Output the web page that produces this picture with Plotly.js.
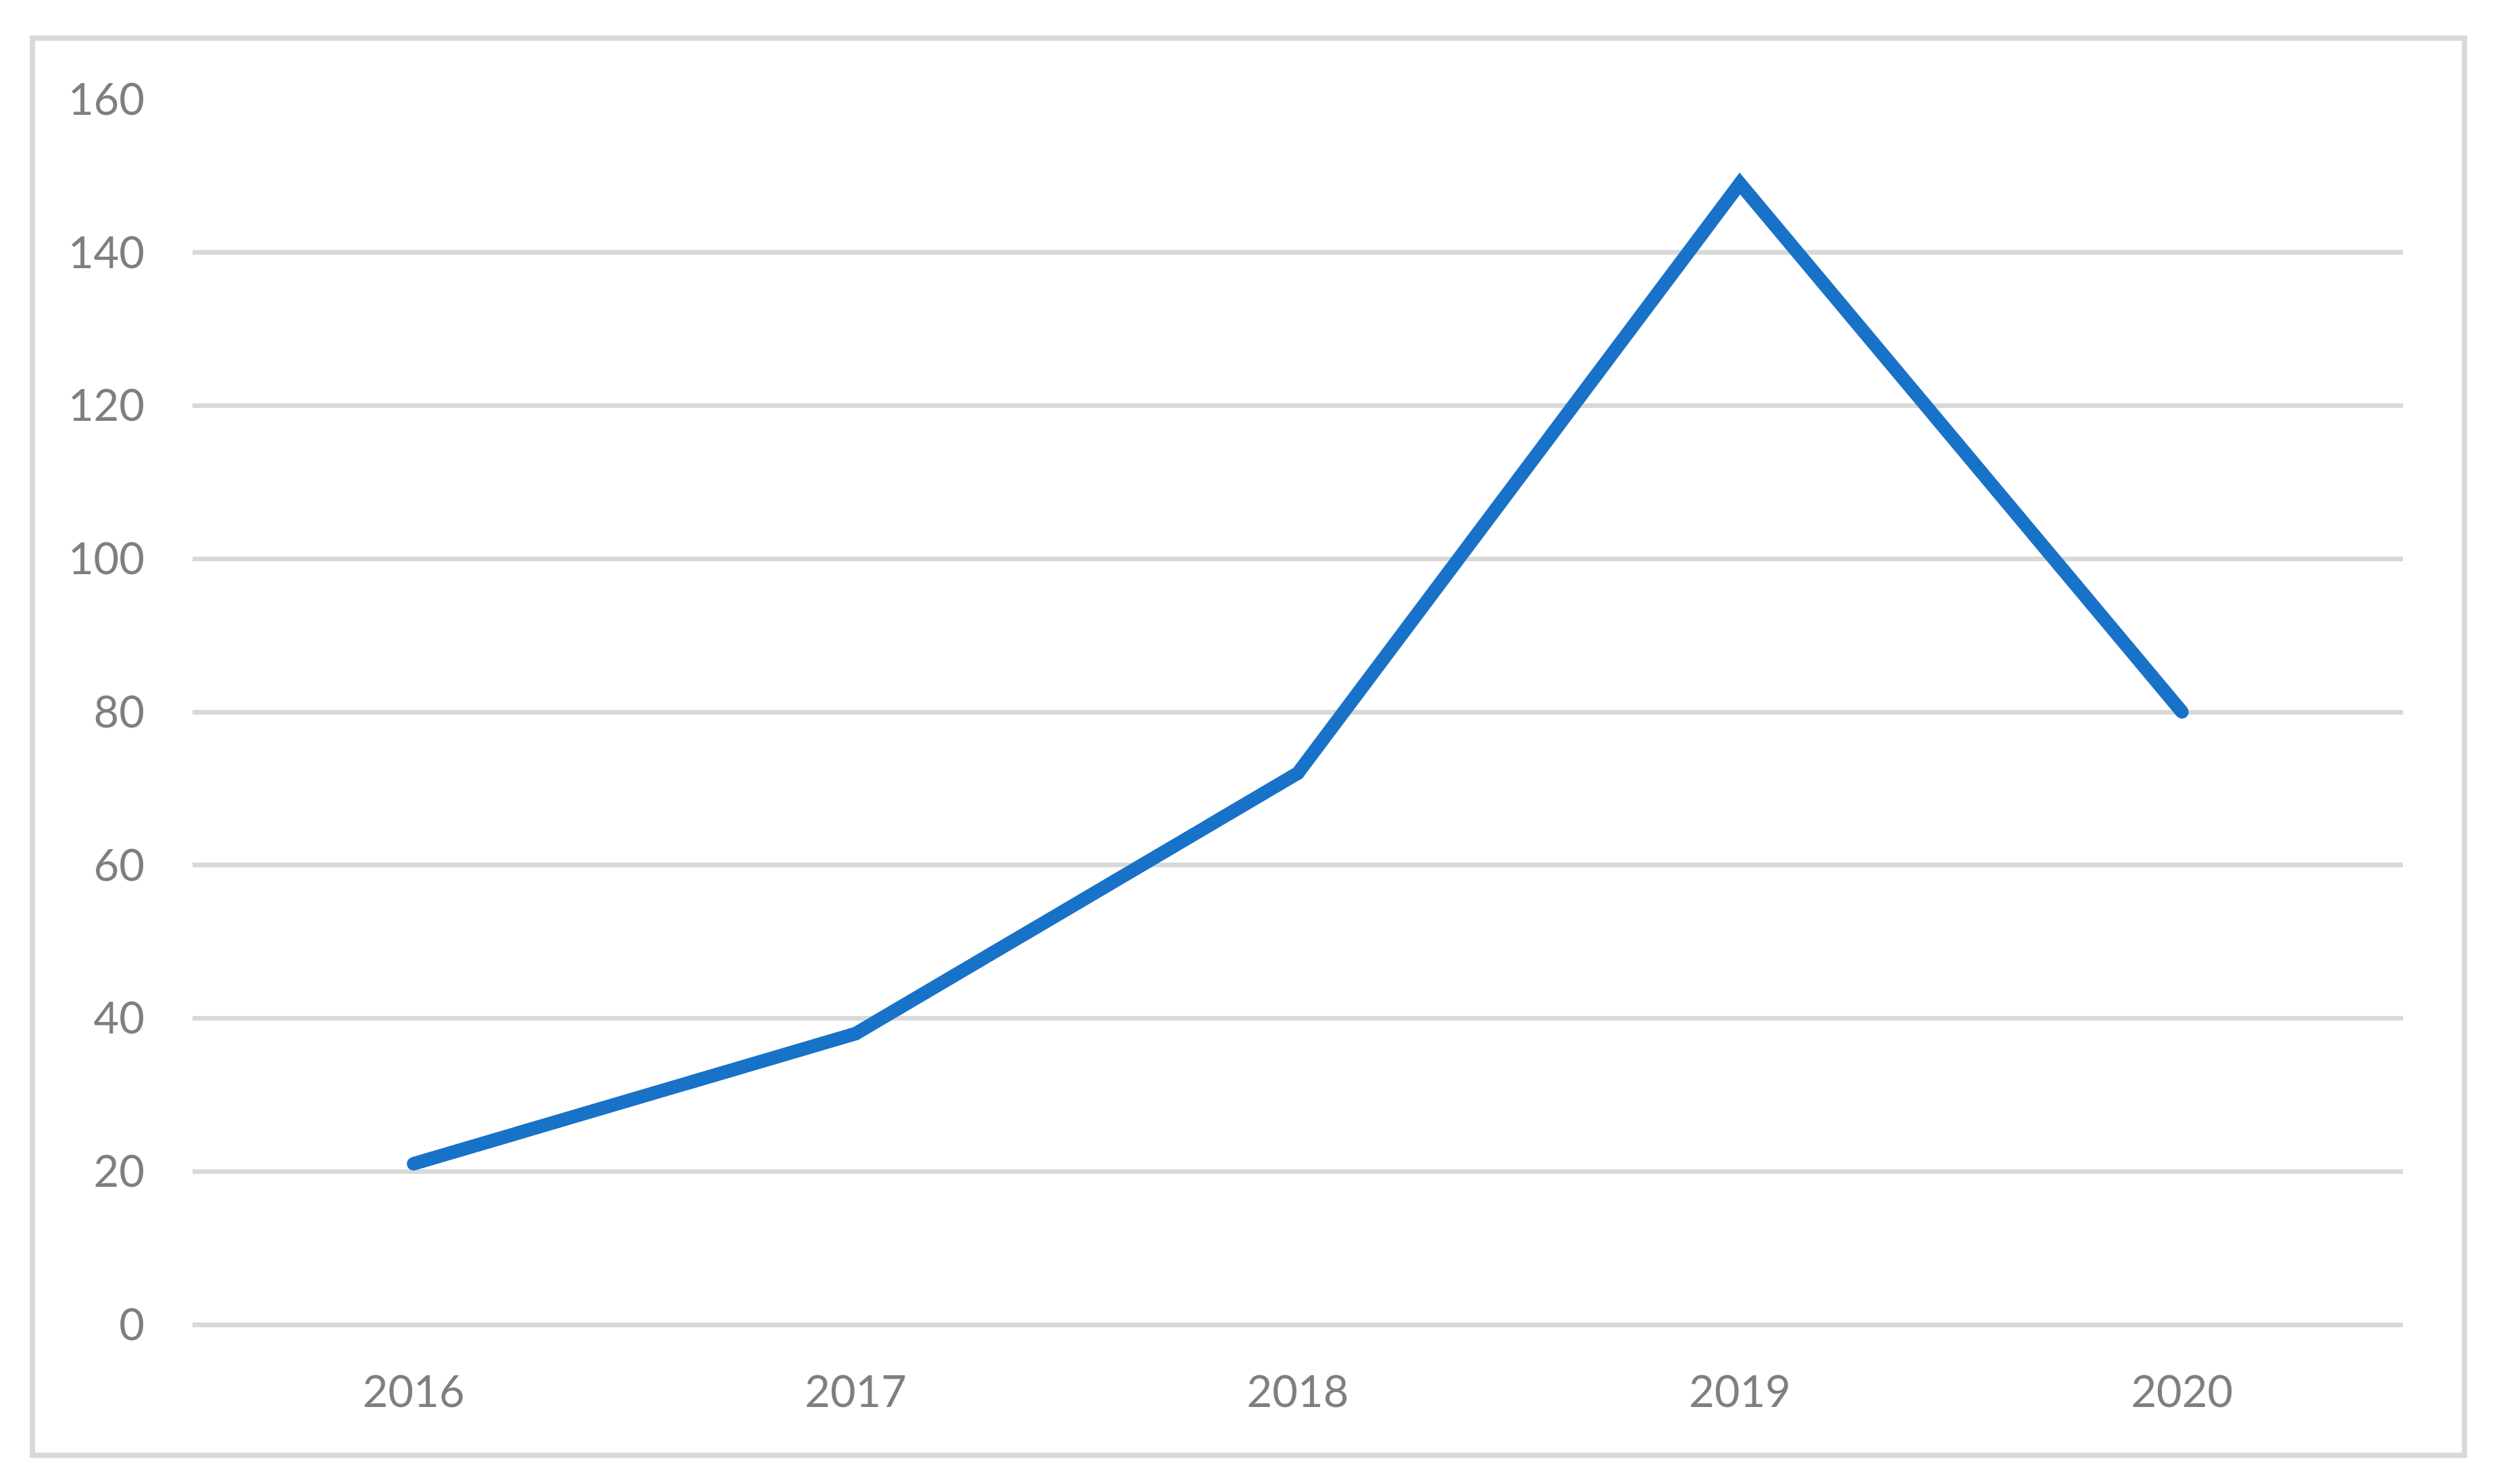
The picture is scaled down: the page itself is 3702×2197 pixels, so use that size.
<!DOCTYPE html>
<html>
<head>
<meta charset="utf-8">
<script src="https://cdn.plot.ly/plotly-3.0.1.min.js"></script>
<style>
  html, body { margin: 0; padding: 0; background: #fff; }
</style>
</head>
<body>
<div id="chart" style="width:3702px;height:2197px;"></div>
<script>
var years = ['2016', '2017', '2018', '2019', '2020'];
var counts = [21, 38, 72, 149, 80];
var yTicks = [0, 20, 40, 60, 80, 100, 120, 140, 160];

var lineColor = '#1872C8';
var gridColor = '#d9d9d9';
var textColor = '#7f7f7f';

var data = [
    {
        x : years,
        y : counts,
        type : 'scatter',
        mode : 'lines+markers',
        line : { color : lineColor, width : 20 },
        marker : { color : lineColor, size : 20 },
        hoverinfo : 'skip'
    }
];

var layout = {
    width : 3702,
    height : 2197,
    margin : { l : 285, r : 145, t : 146.5, b : 235.5 },
    paper_bgcolor : '#ffffff',
    plot_bgcolor : '#ffffff',
    showlegend : false,
    font : { family : 'Lato, "Open Sans", sans-serif', size : 65, color : textColor },
    xaxis : {
        type : 'category',
        range : [-0.5, 4.5],
        showgrid : false,
        zeroline : false,
        showline : false,
        ticks : '',
        ticklabelstandoff : 56,
        tickfont : { size : 65, color : textColor }
    },
    yaxis : {
        range : [0, 160],
        tickvals : yTicks,
        showgrid : true,
        gridcolor : gridColor,
        gridwidth : 7,
        zeroline : true,
        zerolinecolor : gridColor,
        zerolinewidth : 7,
        showline : false,
        ticks : '',
        ticklabelstandoff : 70,
        tickfont : { size : 65, color : textColor }
    },
    shapes : [
        {
            type : 'rect',
            xref : 'paper', yref : 'paper',
            x0 : -0.07243, x1 : 1.02781,
            y0 : -0.10661, y1 : 1.04986,
            line : { color : gridColor, width : 8 },
            fillcolor : 'rgba(0,0,0,0)',
            layer : 'below'
        }
    ]
};

Plotly.newPlot('chart', data, layout, { staticPlot : true, displayModeBar : false });
</script>
</body>
</html>
